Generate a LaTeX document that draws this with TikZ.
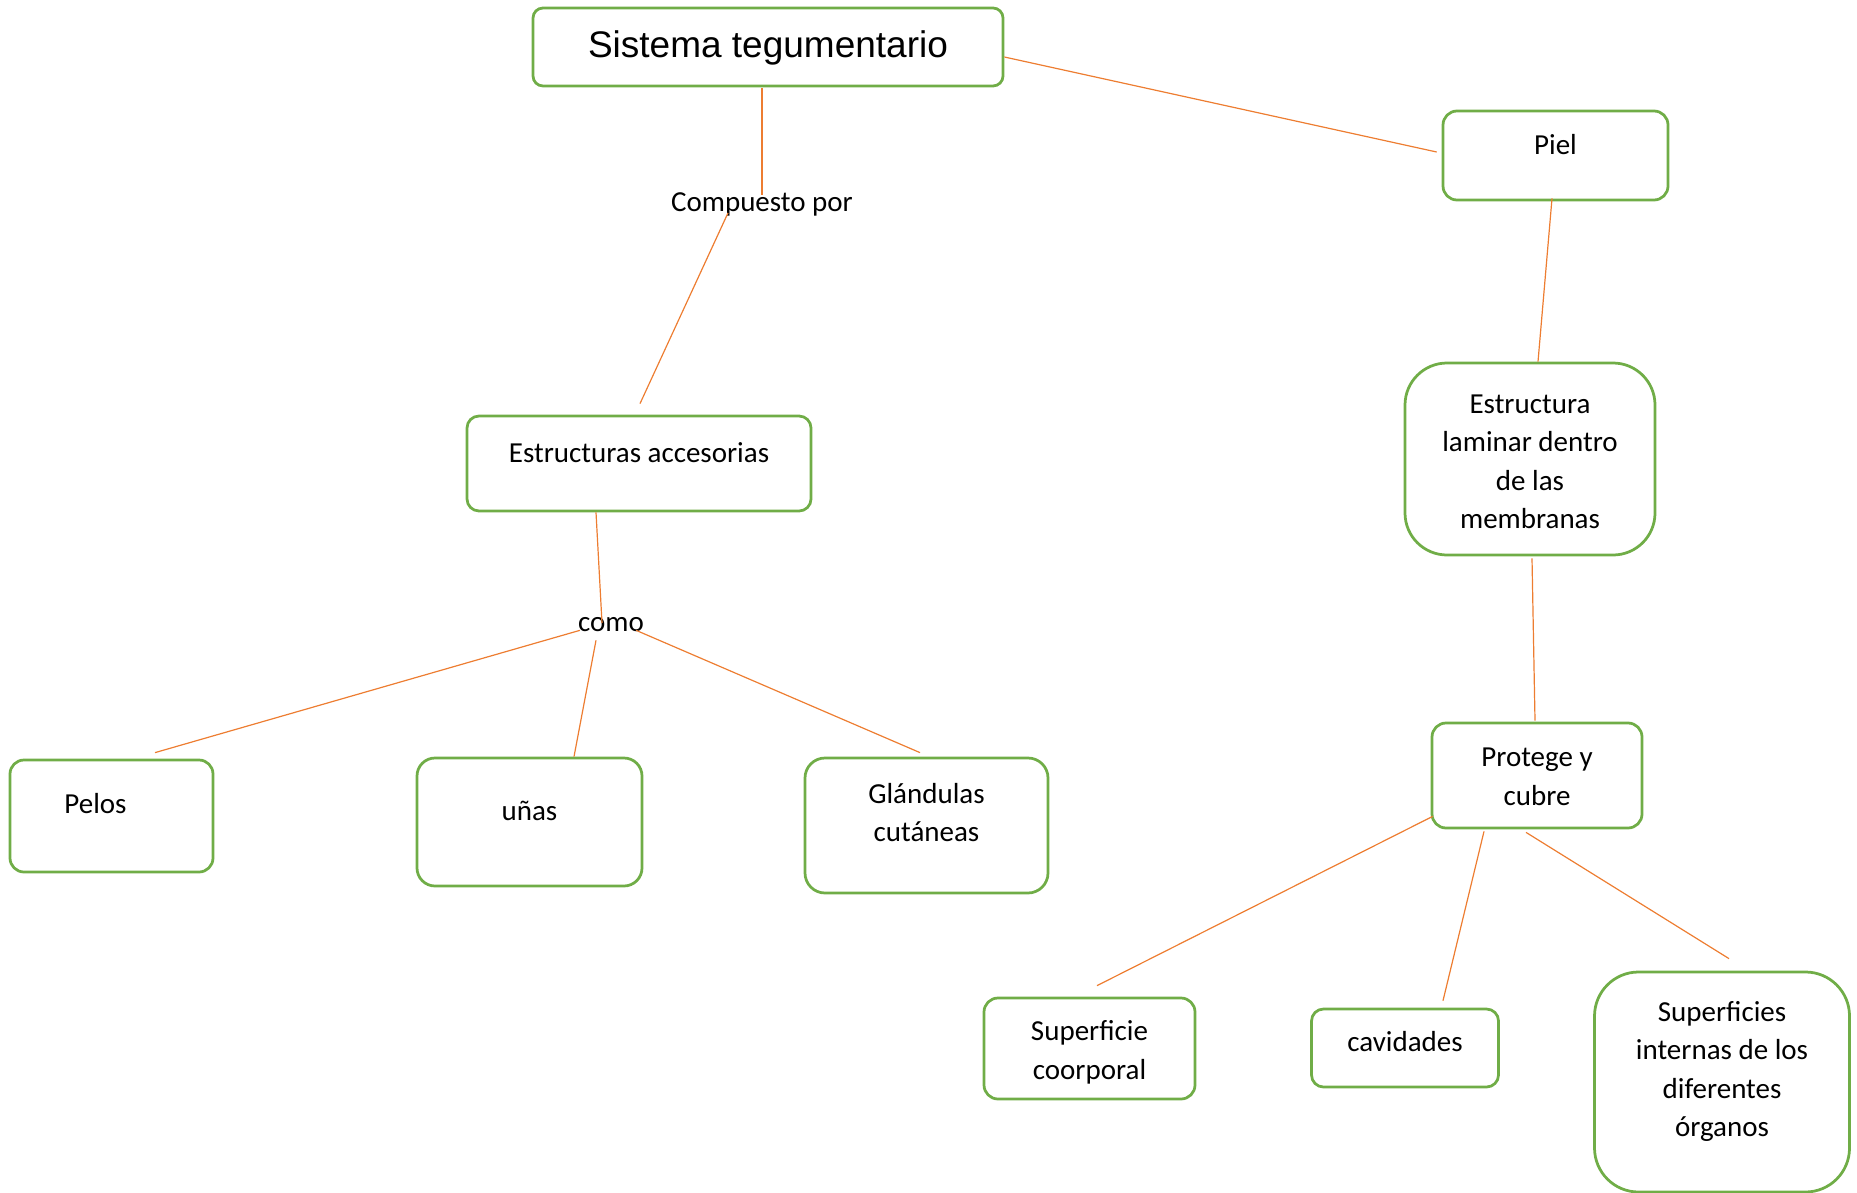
\documentclass[tikz,border=0pt]{standalone}
\usepackage{fontspec}
\setmainfont{Carlito}
\newfontfamily\titlefont{Liberation Sans}
\usepackage{tikz}
\usetikzlibrary{calc}
\definecolor{boxgreen}{RGB}{112,173,71}
\definecolor{lineorange}{RGB}{237,125,49}
\tikzstyle{titlebox}=[rectangle,draw=boxgreen,line width=2.75pt,rounded corners=10pt,inner sep=0pt,font=\titlefont\fontsize{37}{44}\selectfont,text height=26.5pt,text depth=4.5pt]
\tikzstyle{conceptbox}=[rectangle,draw=boxgreen,line width=2.75pt,align=center,inner sep=0pt,font=\fontsize{29}{38.6}\selectfont]
\tikzstyle{linkword}=[inner sep=0pt,font=\fontsize{29}{38.6}\selectfont]
\tikzstyle{link}=[draw=lineorange,line width=1.2pt]

\begin{document}
\begin{tikzpicture}[x=1pt,y=-1pt]
  \useasboundingbox (0,0) rectangle (1857,1193);

  \node[titlebox,minimum width=470pt,minimum height=78pt] (sist) at (768,47) {Sistema tegumentario};

  % ramas de la izquierda
  \foreach \x/\y/\w/\h/\r/\t/\d/\name/\label in {639/463.5/344/95/12/20/23/acces/Estructuras accesorias,
      111.5/816/203/112/14/20/25/pelos/\mbox{Pelos\hspace{32pt}}, 529.5/822/225/128/18/20/24/unas/uñas,
      926.5/825.5/243/135/20/42.6/10/glandulas/{Glándulas\\cutáneas}}
    \node[conceptbox,minimum width=\w pt,minimum height=\h pt,rounded corners=\r pt,text height=\t pt,text depth=\d pt] (\name) at (\x,\y) {\label};

  % ramas de la derecha
  \foreach \x/\y/\w/\h/\r/\t/\d/\name/\label in {1555.5/155.5/225/89/14/20/21/piel/Piel,
      1530/459/250/192/42/149.8/10/lamina/{Estructura\\laminar dentro\\de las\\membranas},
      1537/775.5/210/105/14/69.6/10/protege/{Protege y\\cubre}}
    \node[conceptbox,minimum width=\w pt,minimum height=\h pt,rounded corners=\r pt,text height=\t pt,text depth=\d pt] (\name) at (\x,\y) {\label};

  \foreach \x/\y/\w/\h/\r/\t/\d/\name/\label in {1089.5/1048.5/211/101/14/71.6/10/corporal/{Superficie\\coorporal},
      1405/1048/187/78/12/20/14/cavidades/cavidades,
      1722/1082/255/220/44/119.8/10/internas/{Superficies\\internas de los\\diferentes\\órganos}}
    \node[conceptbox,minimum width=\w pt,minimum height=\h pt,rounded corners=\r pt,text height=\t pt,text depth=\d pt] (\name) at (\x,\y) {\label};

  \node[linkword] (compuesto) at (762,204) {Compuesto por};
  \node[linkword] (como) at (611,625) {como};

  \foreach \source/\sx/\sy/\dest/\dx/\dy in {sist.south/-6/1/compuesto.north/0/3,
      compuesto.south/-34/-3/acces.north/1/-11, acces.south/-43/0/como.center/-9/-2,
      como.south west/2/-2/pelos.north/43.5/-6, como.south/-15/8/unas.north/44.5/0,
      como.south east/-8/-2/glandulas.north/-6.5/-4}
    \path[link] ($(\source)+(\sx,\sy)$) -- ($(\dest)+(\dx,\dy)$);

  \foreach \source/\sx/\sy/\dest/\dx/\dy in {sist.east/0/10/piel.west/-5/-3.5,
      piel.south/-3.5/-3/lamina.north/8/0, lamina.south/2/2/protege.north/-2/-1,
      protege.south west/2/-13/corporal.north/7.5/-11, protege.south/-53/2/cavidades.north/38/-7,
      protege.south/-11/3/internas.north/7/-12}
    \path[link] ($(\source)+(\sx,\sy)$) -- ($(\dest)+(\dx,\dy)$);

\end{tikzpicture}
\end{document}
